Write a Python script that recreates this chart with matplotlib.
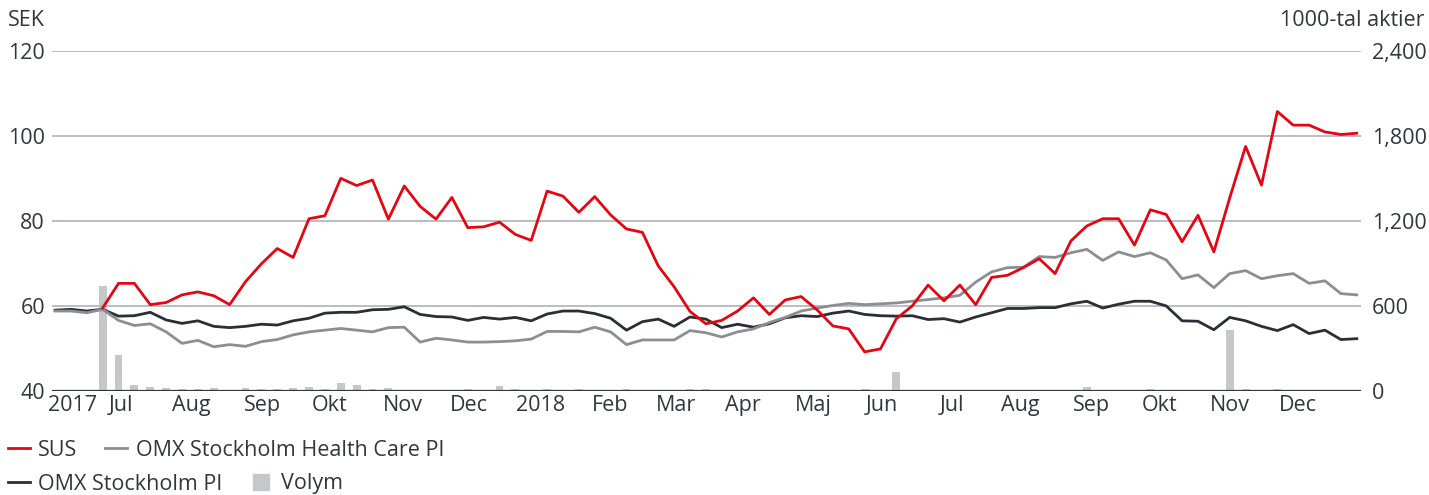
import matplotlib
matplotlib.use("Agg")
import matplotlib.pyplot as plt
from matplotlib.lines import Line2D
from matplotlib.ticker import FuncFormatter
import numpy as np

plt.rcParams['font.family'] = ['Open Sans', 'DejaVu Sans']

# --- data (weekly, mid-June 2017 to end Dec 2018) ---
sus = [np.nan, np.nan, np.nan, 59.5, 65.3, 65.3, 60.3, 60.8, 62.6, 63.3,
       62.4, 60.3, 65.7, 69.9, 73.5, 71.4, 80.5, 81.2, 90.0, 88.3,
       89.6, 80.4, 88.2, 83.4, 80.4, 85.5, 78.4, 78.6, 79.7, 76.8,
       75.4, 87.0, 85.8, 82.0, 85.7, 81.4, 78.1, 77.3, 69.4, 64.5,
       58.7, 55.8, 56.6, 58.8, 61.9, 58.0, 61.4, 62.2, 59.1, 55.3,
       54.6, 49.2, 49.9, 57.0, 60.0, 64.9, 61.2, 64.9, 60.3, 66.7,
       67.2, 69.0, 71.1, 67.6, 75.3, 78.8, 80.5, 80.5, 74.3, 82.6,
       81.5, 75.1, 81.3, 72.7, 85.4, 97.5, 88.4, 105.7, 102.5, 102.5,
       100.9, 100.3, 100.6]

omx_hc = [58.8, 58.8, 58.4, 59.2, 56.6, 55.4, 55.8, 53.9, 51.2, 51.9,
          50.4, 50.9, 50.5, 51.6, 52.1, 53.2, 53.9, 54.3, 54.7, 54.3,
          53.9, 54.9, 55.0, 51.5, 52.4, 52.0, 51.5, 51.5, 51.6, 51.8,
          52.2, 54.0, 54.0, 53.9, 55.0, 53.9, 50.9, 52.0, 52.0, 52.0,
          54.2, 53.7, 52.7, 53.9, 54.6, 56.1, 57.3, 58.8, 59.5, 60.1,
          60.6, 60.3, 60.5, 60.7, 61.1, 61.5, 61.9, 62.5, 65.6, 68.0,
          69.0, 69.1, 71.6, 71.4, 72.5, 73.3, 70.7, 72.7, 71.6, 72.5,
          70.8, 66.4, 67.3, 64.3, 67.6, 68.3, 66.4, 67.1, 67.6, 65.3,
          65.9, 62.9, 62.6]

omx_pi = [59.0, 59.2, 58.8, 59.2, 57.6, 57.7, 58.5, 56.7, 55.9, 56.5,
          55.2, 54.9, 55.2, 55.7, 55.5, 56.5, 57.1, 58.3, 58.5, 58.5,
          59.1, 59.2, 59.8, 58.0, 57.5, 57.4, 56.6, 57.3, 56.9, 57.3,
          56.5, 58.1, 58.8, 58.8, 58.2, 57.1, 54.3, 56.3, 56.9, 55.2,
          57.4, 56.9, 54.9, 55.7, 55.0, 55.8, 57.2, 57.7, 57.5, 58.3,
          58.8, 58.0, 57.7, 57.6, 57.7, 56.8, 57.0, 56.2, 57.4, 58.4,
          59.4, 59.4, 59.6, 59.6, 60.5, 61.1, 59.5, 60.4, 61.1, 61.1,
          60.0, 56.5, 56.4, 54.4, 57.3, 56.5, 55.2, 54.2, 55.6, 53.5,
          54.3, 52.1, 52.3]

volym = [0, 0, 0, 741, 256, 43, 28, 21, 14, 14,
         21, 7, 21, 14, 14, 21, 28, 14, 57, 43,
         12, 19, 7, 7, 0, 7, 14, 7, 36, 14,
         7, 14, 7, 14, 7, 7, 14, 0, 7, 7,
         12, 12, 7, 0, 0, 7, 7, 7, 0, 0,
         0, 14, 0, 131, 0, 7, 0, 0, 0, 0,
         7, 0, 0, 0, 7, 28, 7, 7, 7, 14,
         0, 0, 0, 0, 428, 14, 0, 14, 7, 0,
         0, 0, 0]

month_labels = ['2017', 'Jul', 'Aug', 'Sep', 'Okt', 'Nov', 'Dec', '2018', 'Feb', 'Mar',
                'Apr', 'Maj', 'Jun', 'Jul', 'Aug', 'Sep', 'Okt', 'Nov', 'Dec']
month_pos = [1.1, 4.15, 8.6, 13.1, 17.3, 21.9, 26.1, 30.6, 35.0, 39.1,
             43.3, 47.8, 52.1, 56.5, 60.8, 65.3, 69.6, 74.0, 78.3]

RED = '#e30613'
GREY = '#8c8e93'
DARK = '#2b2e35'
VOL = '#c5c7cb'
TXT = '#33363d'
GRID = '#aeb1b6'
FS = 15.5

x = np.arange(len(omx_pi))

fig = plt.figure(figsize=(14.29, 4.95), dpi=100)
ax = fig.add_axes([52 / 1429, 1 - 391 / 495, (1361 - 52) / 1429, (391 - 50.7) / 495])
ax2 = ax.twinx()

ax2.bar(x, volym, width=0.5, color=VOL, zorder=1)
ax2.set_ylim(0, 2400)
ax2.set_yticks([0, 600, 1200, 1800, 2400])
ax2.yaxis.set_major_formatter(FuncFormatter(lambda v, p: f"{int(v):,}"))

ax.plot(x, omx_pi, color=DARK, lw=2.0, zorder=3)
ax.plot(x, omx_hc, color=GREY, lw=2.0, zorder=3)
ax.plot(x, sus, color=RED, lw=2.0, zorder=4)
ax.set_ylim(40, 120)
ax.set_yticks([40, 60, 80, 100, 120])
ax.set_xlim(-0.19, 82.27)
ax.set_xticks(month_pos)
ax.set_xticklabels(month_labels)

ax.set_zorder(ax2.get_zorder() + 1)
ax.patch.set_visible(False)

for a in (ax, ax2):
    for s in ('top', 'left', 'right', 'bottom'):
        a.spines[s].set_visible(False)
    a.tick_params(length=0, labelsize=FS, colors=TXT)
ax.tick_params(axis='y', pad=5)
ax.tick_params(axis='x', pad=3)
ax2.tick_params(axis='y', pad=8)

for v in [60, 80, 100, 120]:
    ax.axhline(v, color=GRID, lw=1.2, zorder=0)
ax.axhline(40, color=TXT, lw=1.6, zorder=2)

fig.text(8 / 1429, 1 - 21 / 495, 'SEK', fontsize=FS, color=TXT, va='center', ha='left')
fig.text(1425 / 1429, 1 - 21 / 495, '1000-tal aktier', fontsize=FS, color=TXT, va='center', ha='right')

row1 = [Line2D([], [], color=RED, lw=2.0), Line2D([], [], color=GREY, lw=2.0)]
row2 = [Line2D([], [], color=DARK, lw=2.0),
        Line2D([], [], color=VOL, marker='s', markersize=11, linestyle='none')]
leg_kw = dict(ncol=2, frameon=False, fontsize=FS, handlelength=1.0, handletextpad=0.4,
              columnspacing=1.3, borderaxespad=0, borderpad=0, labelcolor=TXT)
leg1 = fig.legend(row1, ['SUS', 'OMX Stockholm Health Care PI'], loc='center left',
                  bbox_to_anchor=(8 / 1429, 1 - 450 / 495), **leg_kw)
leg2 = fig.legend(row2, ['OMX Stockholm PI', 'Volym'], loc='center left',
                  bbox_to_anchor=(8 / 1429, 1 - 484 / 495), **leg_kw)

fig.savefig('out.png', dpi=100)
